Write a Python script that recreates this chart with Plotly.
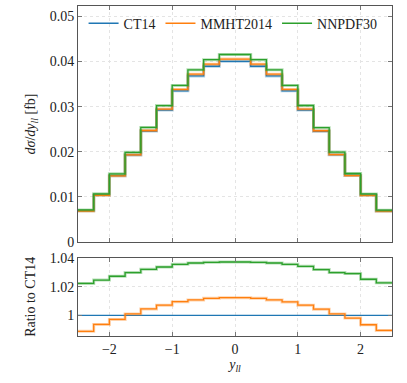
import plotly.graph_objects as go

# bin edges for y_ll (20 bins, width 0.25)
edges = [-2.5 + 0.25 * i for i in range(21)]

ct14 = [0.00695, 0.01043, 0.01470, 0.01930, 0.02460, 0.02925, 0.03350, 0.03680, 0.03895, 0.04005,
        0.04005, 0.03895, 0.03680, 0.03350, 0.02925, 0.02455, 0.01935, 0.01475, 0.01040, 0.00690]

ratio_mmht = [0.9888, 0.9936, 0.9971, 1.0010, 1.0045, 1.0071, 1.0096, 1.0108, 1.0119, 1.0124,
              1.0124, 1.0119, 1.0108, 1.0094, 1.0071, 1.0043, 1.0010, 0.9981, 0.9934, 0.9894]

ratio_nnpdf = [1.0224, 1.0247, 1.0274, 1.0300, 1.0323, 1.0339, 1.0358, 1.0367, 1.0372, 1.0374,
               1.0374, 1.0372, 1.0367, 1.0358, 1.0344, 1.0321, 1.0300, 1.0293, 1.0253, 1.0228]

ratio_ct14 = [1.0] * 20

mmht = [c * r for c, r in zip(ct14, ratio_mmht)]
nnpdf = [c * r for c, r in zip(ct14, ratio_nnpdf)]

names = ["CT14", "MMHT2014", "NNPDF30"]
colors = ["#1f77b4", "#ff7f0e", "#2ca02c"]
light = ["rgba(31,119,180,0.35)", "rgba(255,127,14,0.35)", "rgba(44,160,44,0.35)"]

FONT = "Liberation Serif"


def step(vals):
    return edges, list(vals) + [vals[-1]]


fig = go.Figure()

top_series = [ct14, mmht, nnpdf]
bot_series = [ratio_ct14, ratio_mmht, ratio_nnpdf]

for i in range(3):
    x, y = step(top_series[i])
    fig.add_trace(go.Scatter(x=x, y=y, mode="lines", line=dict(shape="hv", color=light[i], width=3.0),
                             showlegend=False, hoverinfo="skip", xaxis="x", yaxis="y"))
    fig.add_trace(go.Scatter(x=x, y=y, mode="lines", line=dict(shape="hv", color=colors[i], width=1.3),
                             name=names[i], xaxis="x", yaxis="y"))
for i in range(3):
    x, y = step(bot_series[i])
    if i > 0:
        fig.add_trace(go.Scatter(x=x, y=y, mode="lines", line=dict(shape="hv", color=light[i], width=3.0),
                                 showlegend=False, hoverinfo="skip", xaxis="x2", yaxis="y2"))
    fig.add_trace(go.Scatter(x=x, y=y, mode="lines", line=dict(shape="hv", color=colors[i], width=1.3),
                             showlegend=False, xaxis="x2", yaxis="y2"))

axis_common = dict(showline=True, linecolor="#555555", linewidth=1, mirror="ticks", ticks="inside",
                   ticklen=4, tickcolor="#777777", showgrid=True, gridcolor="#e4e4e4", griddash="dot",
                   gridwidth=1, zeroline=False, automargin=False,
                   tickfont=dict(family=FONT, size=14, color="#222"))

fig.update_layout(
    width=407, height=383,
    margin=dict(l=78, r=15, t=6, b=47),
    paper_bgcolor="white", plot_bgcolor="white",
    font=dict(family=FONT, size=14, color="#222"),
    showlegend=True,
    legend=dict(orientation="h", x=0.97, y=0.995, xanchor="right", yanchor="top",
                bgcolor="rgba(255,255,255,0)", font=dict(family=FONT, size=14),
                itemwidth=30, tracegroupgap=0),
    xaxis=dict(domain=[0, 1], anchor="y", range=[-2.5, 2.5], tickvals=[-2, -1, 0, 1, 2],
               showticklabels=False, **axis_common),
    yaxis=dict(domain=[0.2848, 1], anchor="x", range=[0, 0.0523], tickvals=[0, 0.01, 0.02, 0.03, 0.04, 0.05],
               ticktext=["0", "0.01", "0.02", "0.03", "0.04", "0.05"],
               title=dict(text="<i>dσ</i>/<i>dy</i><sub><i>ll</i></sub> [fb]", standoff=10,
                          font=dict(family=FONT, size=14)),
               **axis_common),
    xaxis2=dict(domain=[0, 1], anchor="y2", range=[-2.5, 2.5], tickvals=[-2, -1, 0, 1, 2],
                ticktext=["−2", "−1", "0", "1", "2"],
                title=dict(text="<i>y<sub>ll</sub></i>", standoff=2, font=dict(family=FONT, size=14)),
                **axis_common),
    yaxis2=dict(domain=[0, 0.2376], anchor="x2", range=[0.9855, 1.0405], tickvals=[1, 1.02, 1.04],
                ticktext=["1", "1.02", "1.04"],
                title=dict(text="Ratio to CT14", standoff=10, font=dict(family=FONT, size=14)),
                **axis_common),
)

fig.write_html("out.html", config={"displayModeBar": False},
               post_script="document.body.style.margin='0px';")
